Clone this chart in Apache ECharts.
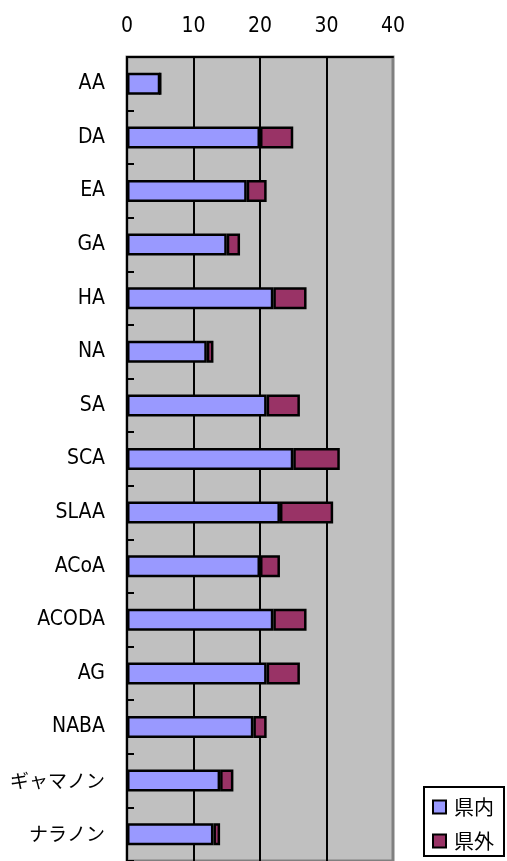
<!DOCTYPE html>
<html>
<head>
<meta charset="utf-8">
<script src="https://cdn.jsdelivr.net/npm/echarts@6/dist/echarts.min.js"></script>
<style>html,body{margin:0;padding:0;background:#fff;}#c{width:507px;height:861px;}</style>
</head>
<body>
<div id="c"></div>
<script>
const categories = ['AA','DA','EA','GA','HA','NA','SA','SCA','SLAA','ACoA','ACODA','AG','NABA','ギャマノン','ナラノン'];
const inPref = [5,20,18,15,22,12,21,25,23,20,22,21,19,14,13];
const outPref = [0,5,3,2,5,1,5,7,8,3,5,5,2,2,1];
const seriesNames = ['県内','県外'];
const xTicks = [0,10,20,30,40];

const FONT = "'DejaVu Sans Condensed', 'DejaVu Sans', 'Noto Sans CJK JP', sans-serif";
const CJK = "'Noto Sans CJK JP', sans-serif";
const chart = echarts.init(document.getElementById('c'), null, {renderer:'canvas'});
chart.setOption({
  animation: false,
  backgroundColor: '#ffffff',
  grid: {left:127, top:57, width:266, height:807, show:true, backgroundColor:'#C0C0C0', borderColor:'#808080', borderWidth:3},
  legend: {
    data: seriesNames, orient:'vertical', left:424, top:787,
    padding:[10,10,5,8], itemGap:14, itemWidth:13, itemHeight:13, icon:'rect',
    borderColor:'#000', borderWidth:2, backgroundColor:'#fff', borderRadius:0,
    itemStyle:{borderColor:'#000', borderWidth:2},
    textStyle:{fontFamily:CJK, fontSize:20, color:'#000', lineHeight:20, padding:[0,0,0,3]}
  },
  xAxis: {
    type:'value', position:'top', min:xTicks[0], max:xTicks[xTicks.length-1], interval:10,
    axisLine:{show:true, lineStyle:{color:'#000', width:2}},
    axisTick:{show:false},
    axisLabel:{fontFamily:FONT, fontSize:21, color:'#000', margin:20},
    splitLine:{show:true, showMinLine:false, showMaxLine:false, lineStyle:{color:'#000', width:2}}
  },
  yAxis: {
    type:'category', data:categories, inverse:true,
    axisLine:{show:true, lineStyle:{color:'#000', width:2}},
    axisTick:{show:true, inside:true, length:7, lineStyle:{color:'#000', width:2}},
    axisLabel:{fontFamily:FONT, fontSize:21, color:'#000', margin:22,
      formatter: function (v) { return /[\u3000-\u30ff]/.test(v) ? '{j|' + v + '}' : v; },
      rich: {j: {fontFamily:CJK, fontSize:19, color:'#000'}}
    }
  },
  series: [
    {name:seriesNames[0], type:'bar', stack:'t', data:inPref, barWidth:22,
     itemStyle:{color:'#9999FF', borderColor:'#000', borderWidth:2.5}},
    {name:seriesNames[1], type:'bar', stack:'t', data:outPref, barWidth:22,
     itemStyle:{color:'#993366', borderColor:'#000', borderWidth:2.5}}
  ]
});
</script>
</body>
</html>
